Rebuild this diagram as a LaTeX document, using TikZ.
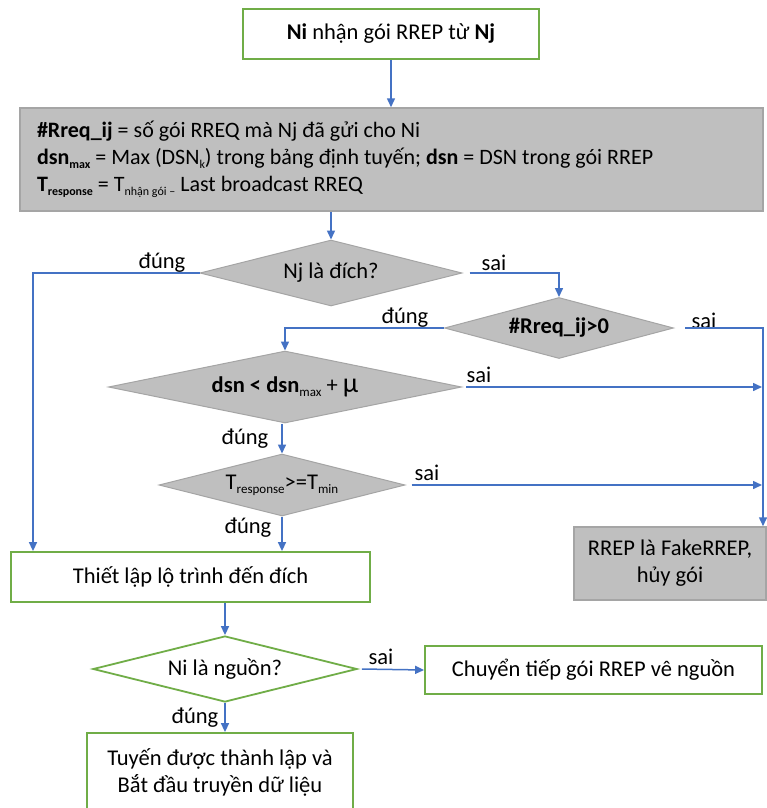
\documentclass[tikz,border=0pt]{standalone}
\usepackage{fontspec}
\setmainfont{Carlito}
\usetikzlibrary{arrows.meta,shapes.geometric}
\definecolor{cblue}{HTML}{4472C4}
\definecolor{cgreen}{HTML}{70AD47}
\definecolor{cgrayfill}{HTML}{BFBFBF}
\definecolor{cgrayline}{HTML}{A5A5A5}
\newcommand\mysub[1]{\raisebox{-0.35ex}{\fontsize{13}{13}\selectfont #1}}
\newcommand\mysubs[1]{\raisebox{-0.35ex}{\fontsize{12}{12}\selectfont\spaceskip=0pt\xspaceskip=0pt #1}}
\begin{document}
\begin{tikzpicture}[x=1pt,y=-1pt,font={\fontsize{22.5}{27}\selectfont},
  gbox/.style={draw=cgreen,line width=1.8pt,fill=white,inner sep=0pt,align=center},
  graybox/.style={draw=cgrayline,line width=1.5pt,fill=cgrayfill,inner sep=0pt,align=center},
  dec/.style={diamond,draw=cgrayline,fill=cgrayfill,line width=1pt,inner sep=0pt},
  gdec/.style={diamond,draw=cgreen,fill=white,line width=1.8pt,inner sep=0pt},
  arr/.style={cblue,line width=1.5pt,-{Triangle[length=9pt,width=8pt]}},
  lbl/.style={inner sep=0pt}]
\useasboundingbox[fill=white] (0,0) rectangle (767,808);
\coordinate (cL) at (33,0);
\coordinate (cR) at (763,0);
% boxes
\node[gbox,minimum width=296pt,minimum height=50pt] (top) at (391,34)
  {\textbf{Ni} nhận gói RREP từ \textbf{Nj}};
\node[graybox,minimum width=743pt,minimum height=103pt,inner xsep=17pt,text width=709pt,align=left,
  font={\fontsize{22}{27}\selectfont}] (gray) at (391.5,159.5)
  {\spaceskip=0pt\xspaceskip=0pt
   \textbf{\#Rreq\_ij} = số gói RREQ mà Nj đã gửi cho Ni\\
   \textbf{dsn}\mysubs{\textbf{max}} = Max (DSN\mysubs{k}) trong bảng định tuyến; \textbf{dsn} = DSN trong gói RREP\\
   \textbf{T}\mysubs{\textbf{response}} = T\mysubs{nhận gói –} Last broadcast RREQ};
\node[dec,minimum width=262pt,minimum height=66pt,aspect=3.97] (d1) at (331,273) {Nj là đích?};
\node[dec,minimum width=229pt,minimum height=61pt,aspect=3.75] (d2) at (559,328) {\textbf{\#Rreq\_ij>0}};
\node[dec,minimum width=353pt,minimum height=72pt,aspect=4.9] (d3) at (285,387)
  {\textbf{dsn <} \textbf{dsn}\mysub{max} + {\fontsize{28}{28}\selectfont μ}};
\node[dec,minimum width=246pt,minimum height=62pt,aspect=3.97] (d4) at (282,485)
  {T\mysub{response}>=T\mysub{min}};
\node[gbox,minimum width=359pt,minimum height=50pt] (box3) at (190.5,577) {Thiết lập lộ trình đến đích};
\node[graybox,minimum width=192pt,minimum height=73pt] (fake) at (670,563.5) {RREP là FakeRREP,\\hủy gói};
\node[gdec,minimum width=264pt,minimum height=66pt,aspect=4] (d5) at (225,669) {Ni là nguồn?};
\node[gbox,minimum width=337pt,minimum height=48pt] (fwd) at (593.5,670) {Chuyển tiếp gói RREP vê nguồn};
\node[gbox,minimum width=266pt,minimum height=79pt] (fin) at (220,772.5) {Tuyến được thành lập và\\Bắt đầu truyền dữ liệu};
% labels
\node[lbl] (l1) at (162,263) {đúng};
\node[lbl] (l2) at (494,263) {sai};
\node[lbl] (l3) at (405,318) {đúng};
\node[lbl] (l4) at (704,321) {sai};
\node[lbl] (l5) at (479,375) {sai};
\node[lbl] (l6) at (245,439) {đúng};
\node[lbl] (l7) at (427,473) {sai};
\node[lbl] (l8) at (248,528) {đúng};
\node[lbl] (l9) at (381,657) {sai};
\node[lbl] (l10) at (195,718) {đúng};
% connectors
\draw[arr] (top.south) -- (top.south |- gray.north);
\draw[arr] (d1.north |- gray.south) -- (d1.north);
\draw[arr] (d1.west) -| (cL |- box3.north);
\draw[arr] ([xshift=7pt]d1.east) -| (d2.north);
\draw[arr] (d2.west) -| (d3.north);
\draw[arr] ([xshift=11pt]d2.east) -| (cR |- fake.north);
\draw[arr] ([xshift=4pt]d3.east) -- ([xshift=-1pt]cR |- d3.east);
\draw[arr] (d4.north |- d3.south) -- (d4.north);
\draw[arr] ([xshift=6pt]d4.east) -- ([xshift=-1pt]cR |- d4.east);
\draw[arr] (d4.south) -- (d4.south |- box3.north);
\draw[arr] (d5.north |- box3.south) -- (d5.north);
\draw[arr] ([xshift=4pt]d5.east) -- (fwd.west);
\draw[arr] (d5.south) -- (d5.south |- fin.north);
\end{tikzpicture}
\end{document}
